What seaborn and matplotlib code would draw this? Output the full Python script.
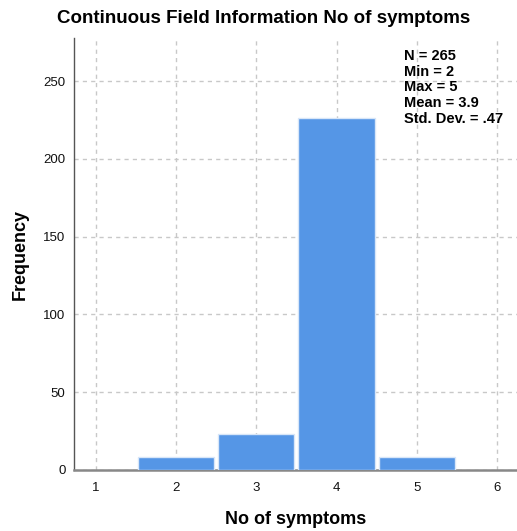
import matplotlib
matplotlib.use("Agg")
import matplotlib.pyplot as plt
import seaborn as sns
import pandas as pd

symptoms = [2, 3, 4, 5]
frequency = [8, 23, 226, 8]
x_ticks = [1, 2, 3, 4, 5, 6]
y_ticks = [0, 50, 100, 150, 200, 250]
stats_lines = ["N = 265", "Min = 2", "Max = 5", "Mean = 3.9", "Std. Dev. = .47"]
title = "Continuous Field Information No of symptoms"

sns.set_style("white")
plt.rcParams['font.family'] = ['Liberation Sans', 'DejaVu Sans']
plt.rcParams['text.color'] = 'black'

df = pd.DataFrame({"No of symptoms": symptoms, "Frequency": frequency})

fig = plt.figure(figsize=(5.17, 5.31), dpi=100)
ax = fig.add_axes([0.143, 0.115, 0.857, 0.813])

sns.histplot(data=df, x="No of symptoms", weights="Frequency", discrete=True,
             shrink=0.95, color="#5596E6", alpha=1, edgecolor="#D8E6F8",
             linewidth=1, ax=ax, zorder=3)

ax.set_xlim(0.725, 6.25)
ax.set_ylim(0, 277.6)
ax.set_xticks(x_ticks)
ax.set_yticks(y_ticks)
ax.grid(True, linestyle=(0, (3, 3)), color="#C8C8C8", linewidth=1, zorder=0)
ax.set_axisbelow(True)
for s in ["top", "right"]:
    ax.spines[s].set_visible(False)
ax.spines["left"].set_color("#555555")
ax.spines["left"].set_linewidth(1)
ax.spines["bottom"].set_color("#888888")
ax.spines["bottom"].set_linewidth(1.8)
ax.tick_params(axis="both", length=0, labelsize=9.5, colors="#111111", pad=6)
ax.tick_params(axis="x", pad=9)

ax.set_xlabel("")
ax.set_ylabel("")
fig.text(296 / 517, 1 - 520 / 531, "No of symptoms", ha="center", va="center",
         fontsize=13, fontweight="bold", color="black")
fig.text(20 / 517, 1 - 255 / 531, "Frequency", ha="center", va="center",
         rotation=90, fontsize=13, fontweight="bold", color="black")
fig.text(0.51, 0.966, title, ha="center", va="center", fontsize=13.5,
         fontweight="bold", color="black")

ax.text(0.745, 0.975, "\n".join(stats_lines), transform=ax.transAxes,
        ha="left", va="top", fontsize=10.5, fontweight="bold", linespacing=1.15,
        color="black")

fig.savefig("out.png", dpi=100)
